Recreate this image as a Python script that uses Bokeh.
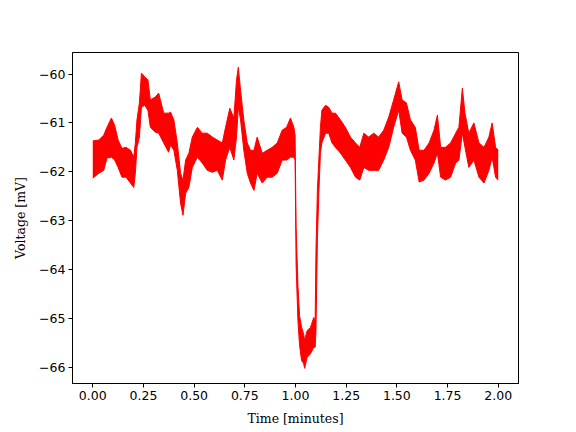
from bokeh.plotting import figure
from bokeh.models import Range1d, FixedTicker
from bokeh.embed import file_html
from bokeh.resources import INLINE

# Envelope of the noisy trace (time in minutes, voltage in mV)
time_min = [0.000, 0.030, 0.054, 0.070, 0.092, 0.108, 0.125, 0.144, 0.164, 0.186,
            0.202, 0.210, 0.218, 0.230, 0.240, 0.256, 0.272, 0.284, 0.309, 0.325,
            0.350, 0.374, 0.384, 0.400, 0.417, 0.433, 0.445, 0.458, 0.474, 0.491,
            0.516, 0.540, 0.565, 0.590, 0.614, 0.639, 0.655, 0.676, 0.696, 0.709,
            0.718, 0.729, 0.745, 0.762, 0.778, 0.795, 0.811, 0.836, 0.860, 0.885,
            0.910, 0.934, 0.956, 0.975, 0.992, 0.998, 1.003, 1.012, 1.020, 1.030,
            1.040, 1.045, 1.057, 1.074, 1.090, 1.097, 1.101, 1.108, 1.115, 1.123,
            1.130, 1.148, 1.164, 1.180, 1.197, 1.222, 1.246, 1.271, 1.296, 1.317,
            1.337, 1.361, 1.386, 1.410, 1.435, 1.460, 1.484, 1.509, 1.526, 1.547,
            1.567, 1.591, 1.610, 1.634, 1.659, 1.683, 1.700, 1.716, 1.740, 1.765,
            1.790, 1.806, 1.823, 1.836, 1.855, 1.880, 1.905, 1.930, 1.954, 1.970,
            1.987, 2.000]
v_upper = [-61.37, -61.35, -61.25, -61.09, -60.90, -61.05, -61.35, -61.52, -61.50, -61.56,
           -61.70, -61.41, -60.94, -60.59, -59.98, -60.06, -60.12, -60.53, -60.47, -60.39,
           -60.80, -60.80, -60.78, -60.94, -61.41, -62.03, -62.17, -61.76, -61.62, -61.29,
           -61.09, -61.21, -61.21, -61.29, -61.35, -61.41, -61.09, -60.70, -60.90, -60.12,
           -59.86, -60.33, -60.94, -61.41, -61.56, -61.56, -61.29, -61.62, -61.56, -61.50,
           -61.41, -61.15, -61.09, -60.90, -61.09, -61.25, -63.14, -64.32, -64.94, -65.18,
           -65.31, -65.45, -65.25, -65.18, -64.98, -65.04, -63.61, -62.38, -61.76, -61.09,
           -60.74, -60.64, -60.68, -60.80, -60.80, -60.94, -61.09, -61.29, -61.41, -61.50,
           -61.21, -61.29, -61.21, -61.29, -61.15, -60.88, -60.53, -60.16, -60.53, -60.59,
           -60.94, -61.09, -61.56, -61.56, -61.41, -61.15, -60.84, -61.50, -61.50, -61.41,
           -61.21, -61.09, -60.29, -60.80, -61.21, -61.00, -61.41, -61.50, -61.29, -61.00,
           -61.50, -61.56]
v_lower = [-62.13, -62.03, -61.97, -61.72, -61.70, -61.76, -61.91, -62.11, -62.11, -62.23,
           -62.32, -62.03, -61.50, -61.29, -60.68, -60.64, -60.74, -61.09, -61.19, -61.21,
           -61.41, -61.60, -61.45, -61.56, -61.97, -62.64, -62.89, -62.44, -62.32, -61.91,
           -61.70, -61.82, -61.97, -62.01, -61.97, -62.17, -61.76, -61.50, -61.76, -61.29,
           -60.68, -60.94, -61.56, -62.03, -62.23, -62.38, -62.03, -62.23, -62.11, -62.11,
           -62.03, -61.76, -61.76, -61.70, -61.70, -61.76, -63.91, -65.04, -65.55, -65.86,
           -65.92, -66.02, -65.80, -65.72, -65.59, -65.59, -65.25, -63.40, -62.44, -61.62,
           -61.41, -61.21, -61.21, -61.41, -61.50, -61.62, -61.76, -61.91, -62.11, -62.17,
           -61.91, -61.97, -61.97, -61.97, -61.76, -61.50, -61.09, -60.74, -61.21, -61.29,
           -61.56, -61.76, -62.21, -62.17, -62.03, -61.82, -61.62, -62.11, -62.17, -62.11,
           -61.82, -61.76, -61.21, -61.50, -61.91, -61.76, -62.11, -62.23, -61.97, -61.70,
           -62.11, -62.17]

x_ticks = [0.0, 0.25, 0.5, 0.75, 1.0, 1.25, 1.5, 1.75, 2.0]
x_tick_labels = ["0.00", "0.25", "0.50", "0.75", "1.00", "1.25", "1.50", "1.75", "2.00"]
y_ticks = [-66, -65, -64, -63, -62, -61, -60]
y_tick_labels = ["\u221266", "\u221265", "\u221264", "\u221263", "\u221262", "\u221261", "\u221260"]

p = figure(width=568, height=430, output_backend="svg", toolbar_location=None,
           x_range=Range1d(-0.1, 2.1), y_range=Range1d(-66.33, -59.56),
           min_border_left=72, min_border_right=50, min_border_top=52, min_border_bottom=47)

p.varea(x=time_min, y1=v_lower, y2=v_upper, fill_color="red", fill_alpha=1.0)
p.line(x=time_min, y=v_upper, line_color="red", line_width=1)
p.line(x=time_min, y=v_lower, line_color="red", line_width=1)

p.xgrid.visible = False
p.ygrid.visible = False
p.outline_line_color = "black"
p.outline_line_width = 1
p.outline_line_alpha = 1.0

p.xaxis.ticker = FixedTicker(ticks=x_ticks)
p.xaxis.major_label_overrides = {t: l for t, l in zip(x_ticks, x_tick_labels)}
p.yaxis.ticker = FixedTicker(ticks=y_ticks)
p.yaxis.major_label_overrides = {t: l for t, l in zip(y_ticks, y_tick_labels)}

for ax in (p.xaxis[0], p.yaxis[0]):
    ax.axis_line_color = "black"
    ax.axis_line_width = 1
    ax.major_tick_line_color = "black"
    ax.major_tick_line_width = 1
    ax.major_tick_out = 4
    ax.major_tick_in = 0
    ax.minor_tick_out = 0
    ax.minor_tick_in = 0
    ax.major_label_text_font = "DejaVu Sans"
    ax.major_label_text_font_size = "12.5px"
    ax.major_label_text_color = "black"
    ax.major_label_standoff = 3
    ax.axis_label_text_font = "DejaVu Serif"
    ax.axis_label_text_font_size = "12.5px"
    ax.axis_label_text_font_style = "normal"
    ax.axis_label_text_color = "black"

p.xaxis.axis_label = "Time [minutes]"
p.yaxis.axis_label = "Voltage [mV]"
p.xaxis.axis_label_standoff = 8
p.yaxis.axis_label_standoff = 8

open("out.html", "w").write(file_html(p, INLINE))
